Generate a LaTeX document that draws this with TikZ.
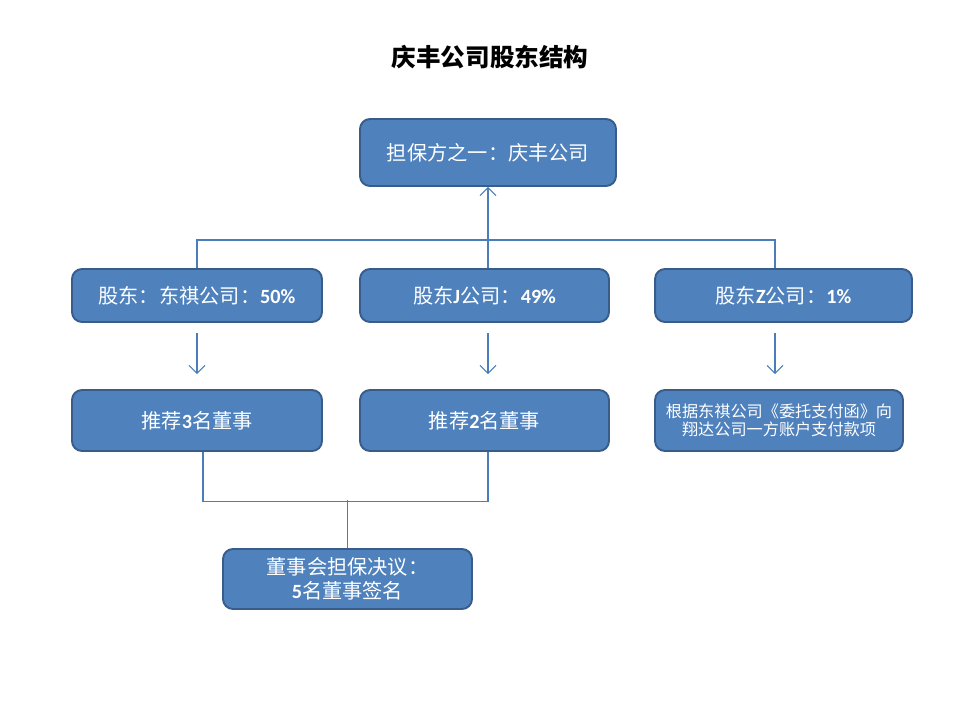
\documentclass[tikz,border=0pt]{standalone}
\usepackage{fontspec}
\setmainfont{Carlito}
\newfontfamily\cjk{Noto Sans CJK SC}
\newfontfamily\latin{Carlito}
\newcommand{\numb}[1]{{\latin\bfseries #1}}
\usepackage{tikz}
\usetikzlibrary{arrows.meta, positioning}
\definecolor{boxfill}{HTML}{4F81BD}
\definecolor{boxline}{HTML}{385D8A}
\definecolor{linkcol}{HTML}{4A7EBB}
\tikzset{
    box/.style={rectangle, rounded corners=0.2cm, draw=boxline, fill=boxfill, line width=1.1pt, text=white, minimum width=5cm, minimum height=1.06cm, align=center, font=\cjk\fontsize{11.5}{14}\selectfont},
    tallbox/.style={box, minimum height=1.22cm},
    link/.style={draw=linkcol, line width=0.6pt},
    arrow/.style={link, -{Straight Barb[length=4.5pt, width=9pt]}}
}
\begin{document}
\begin{tikzpicture}[x=0.02cm, y=-0.02cm]
    \useasboundingbox (0,0) rectangle (960,720);

    % title
    \node[font=\cjk\bfseries\fontsize{14}{16}\selectfont] (title) at (490,57) {庆丰公司股东结构};

    % guarantor
    \node[box, minimum width=5.12cm, minimum height=1.34cm] (guarantor) at (488,152.5) {担保方之一：庆丰公司};

    % shareholders
    \node[box] (holder_dq) at (197,295.5) {股东：东祺公司：\numb{50\%}};
    \node[box, minimum width=4.98cm] (holder_j) at (484.5,295.5) {股东\numb{J}公司：\numb{49\%}};
    \node[box, minimum width=5.14cm] (holder_z) at (783.5,295.5) {股东\numb{Z}公司：\numb{1\%}};

    % what each shareholder does
    \node[tallbox] (nominate_3) at (197,420.5) {推荐\numb{3}名董事};
    \node[tallbox, minimum width=4.98cm] (nominate_2) at (484.5,420.5) {推荐\numb{2}名董事};
    \node[tallbox, minimum width=4.96cm, font=\cjk\fontsize{9.2}{10.5}\selectfont] (payment) at (779,420.5) {根据东祺公司《委托支付函》向\\翔达公司一方账户支付款项};

    % board resolution
    \node[tallbox, minimum width=4.98cm, minimum height=1.2cm] (resolution) at (347.5,579) {董事会担保决议：\\\numb{5}名董事签名};

    % Lines
    \coordinate (bar) at (488,240);
    \draw[link] (holder_dq.north) |- (bar) -| ([xshift=-0.17cm]holder_z.north);
    \draw[arrow] (guarantor.south |- holder_j.north) -- (guarantor.south);
    \draw[arrow, shorten <=0.2cm, shorten >=0.3cm] (holder_dq.south) -- (nominate_3.north);
    \draw[arrow, shorten <=0.2cm, shorten >=0.3cm] (guarantor.south |- holder_j.south) -- (guarantor.south |- nominate_2.north);
    \draw[arrow, shorten <=0.2cm, shorten >=0.3cm] ([xshift=-0.17cm]holder_z.south) -- ([xshift=-0.17cm]holder_z.south |- payment.north);
    \draw[link] ([xshift=0.12cm]nominate_3.south) -- ++(0,50) -| (guarantor.south |- nominate_2.south);
    \draw[link] (resolution.north) -- ++(0,-48);
\end{tikzpicture}
\end{document}
